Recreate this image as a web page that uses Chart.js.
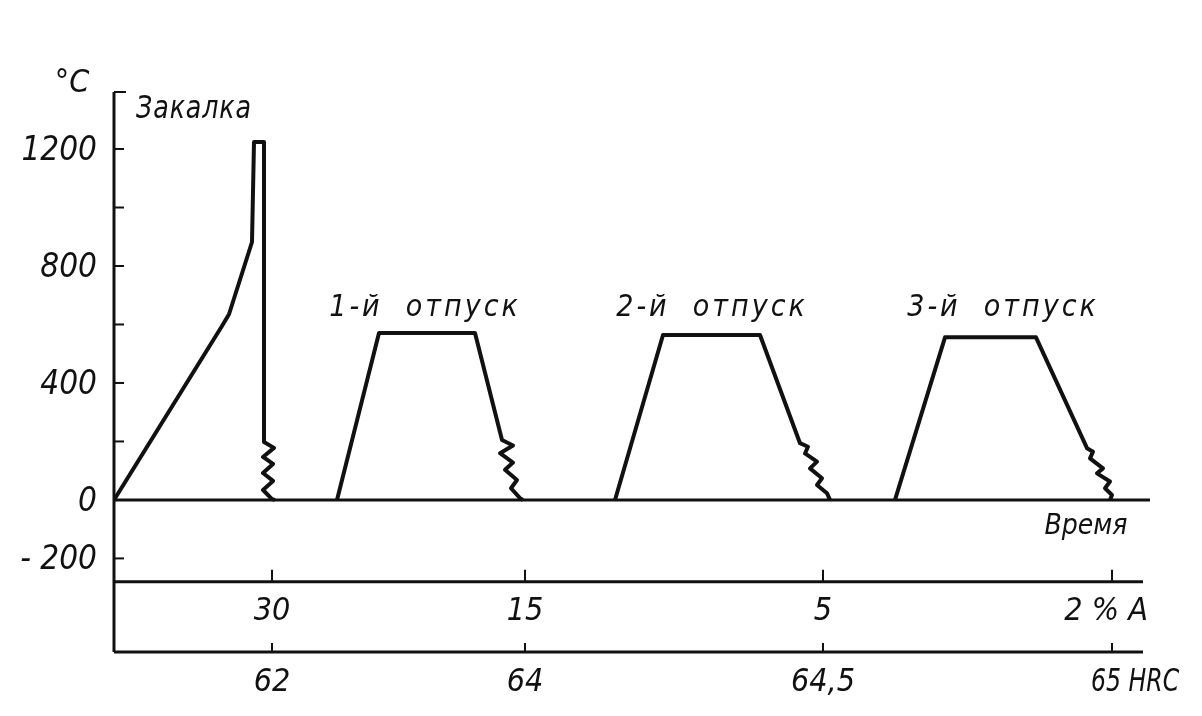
<!DOCTYPE html>
<html>
<head>
<meta charset="utf-8">
<script src="https://cdn.jsdelivr.net/npm/chart.js@4"></script>
<style>
  html, body { margin: 0; padding: 0; background: #fff; }
  #wrap { width: 1202px; height: 716px; position: relative; }
</style>
</head>
<body>
<div id="wrap"><canvas id="chart"></canvas></div>
<script>
// time in arbitrary units, temperature in °C
const quenchTime = [0, 10.8, 11.5, 13.8, 14.0, 15.0, 15.0, 16.0, 14.9, 15.9, 14.9, 15.9, 14.9, 15.8, 16.1];
const quenchTemp = [0, 595, 635, 882, 1224, 1224, 198, 178, 147, 123, 92, 65, 34, 3, 0];

const temper1Time = [22.3, 26.5, 36.1, 38.8, 39.9, 38.6, 39.9, 39.1, 40.3, 39.7, 40.6, 40.9];
const temper1Temp = [0, 571, 571, 205, 186, 160, 128, 103, 68, 40, 6, 0];

const temper2Time = [50.1, 54.9, 64.6, 68.6, 69.4, 69.1, 70.3, 69.6, 70.8, 70.3, 71.3, 71.6];
const temper2Temp = [0, 564, 564, 194, 182, 159, 131, 108, 74, 51, 23, 0];

const temper3Time = [78.1, 83.1, 92.2, 97.3, 97.9, 97.6, 98.9, 98.3, 99.6, 99.1, 99.8, 99.6];
const temper3Temp = [0, 556, 556, 177, 165, 142, 108, 91, 63, 40, 17, 0];

const stageNames = ['Закалка', '1-й  отпуск', '2-й  отпуск', '3-й  отпуск'];

const yTickValues = [-200, 200, 400, 600, 800, 1000, 1200];
const yLabelValues = [1200, 800, 400, 0, -200];

// after each stage: retained austenite (%) and hardness (HRC)
const stageEndTime = [15.8, 41.1, 70.9, 99.8];
const austeniteLabels = ['30', '15', '5', '2 % A'];
const hardnessLabels = ['62', '64', '64,5', '65 HRC'];

const Y_MIN = -520, Y_MAX = 1395, X_MAX = 103.6;
const AUST_LINE = -280;
const FONT = '"Liberation Sans Narrow", "DejaVu Sans Condensed", sans-serif';

function pts(xs, ys) {
  return xs.map((x, i) => ({ x: x, y: ys[i] }));
}

function text(ctx, str, x, y, size, align, spacing, squeeze) {
  ctx.save();
  ctx.font = 'italic ' + size + 'px ' + FONT;
  ctx.fillStyle = '#111';
  ctx.textAlign = align || 'center';
  ctx.textBaseline = 'middle';
  if ('letterSpacing' in ctx) ctx.letterSpacing = (spacing || 0) + 'px';
  ctx.translate(x, y);
  ctx.scale(squeeze || 1, 1);
  ctx.fillText(str, 0, 0);
  ctx.restore();
}

function line(ctx, x1, y1, x2, y2, w) {
  ctx.beginPath();
  ctx.lineWidth = w;
  ctx.moveTo(x1, y1);
  ctx.lineTo(x2, y2);
  ctx.stroke();
}

const drawing = {
  id: 'drawing',
  beforeDatasetsDraw(chart) {
    const ctx = chart.ctx;
    const xs = chart.scales.x, ys = chart.scales.y;
    const left = xs.getPixelForValue(0);
    ctx.save();
    ctx.strokeStyle = '#111';
    ctx.lineCap = 'butt';

    // temperature axis
    line(ctx, left, ys.getPixelForValue(Y_MAX), left, ys.getPixelForValue(Y_MIN), 3);
    line(ctx, left, ys.getPixelForValue(Y_MAX), left + 12, ys.getPixelForValue(Y_MAX), 2);
    yTickValues.forEach(v => {
      const y = ys.getPixelForValue(v);
      line(ctx, left, y, left + 10, y, 2);
    });
    yLabelValues.forEach(v => {
      const s = v < 0 ? '- ' + Math.abs(v) : String(v);
      text(ctx, s, left - 17, ys.getPixelForValue(v) + 2, 33, 'right');
    });
    text(ctx, '°C', left - 42, ys.getPixelForValue(Y_MAX) - 8, 32, 'center');

    // time axis
    line(ctx, left, ys.getPixelForValue(0), xs.getPixelForValue(X_MAX), ys.getPixelForValue(0), 3);
    text(ctx, 'Время', xs.getPixelForValue(97.2), ys.getPixelForValue(-92), 28, 'center', 0);

    // austenite and hardness strips
    const yA = ys.getPixelForValue(AUST_LINE), yH = ys.getPixelForValue(Y_MIN);
    const right = xs.getPixelForValue(102.9);
    line(ctx, left, yA, right, yA, 3);
    line(ctx, left, yH, right, yH, 3);
    stageEndTime.forEach((t, i) => {
      const x = xs.getPixelForValue(t);
      line(ctx, x, yA, x, yA - 12, 2);
      line(ctx, x, yH, x, yH - 9, 2);
      const last = i === stageEndTime.length - 1;
      text(ctx, austeniteLabels[i], x - (last ? 6 : 0), yA + 30, 32, 'center', 0);
      if (last) text(ctx, hardnessLabels[i], x - 21, yH + 31, 32, 'left', 0, 0.82);
      else text(ctx, hardnessLabels[i], x, yH + 31, 32, 'center');
    });

    // stage names
    text(ctx, stageNames[0], xs.getPixelForValue(8.0), ys.getPixelForValue(1333), 32, 'center', 1, 0.88);
    text(ctx, stageNames[1], xs.getPixelForValue(31.1), ys.getPixelForValue(656), 30, 'center', 3);
    text(ctx, stageNames[2], xs.getPixelForValue(59.8), ys.getPixelForValue(656), 30, 'center', 3);
    text(ctx, stageNames[3], xs.getPixelForValue(88.9), ys.getPixelForValue(656), 30, 'center', 3);
    ctx.restore();
  }
};

function series(name, data) {
  return {
    label: name,
    data: data,
    showLine: true,
    borderColor: '#111',
    borderWidth: 4,
    borderJoinStyle: 'round',
    pointRadius: 0,
    tension: 0,
    fill: false
  };
}

new Chart(document.getElementById('chart'), {
  type: 'scatter',
  data: {
    datasets: [
      series(stageNames[0], pts(quenchTime, quenchTemp)),
      series(stageNames[1], pts(temper1Time, temper1Temp)),
      series(stageNames[2], pts(temper2Time, temper2Temp)),
      series(stageNames[3], pts(temper3Time, temper3Temp))
    ]
  },
  options: {
    responsive: true,
    maintainAspectRatio: false,
    animation: false,
    layout: { padding: { left: 114, right: 52, top: 92, bottom: 64 } },
    plugins: { legend: { display: false }, tooltip: { enabled: false } },
    scales: {
      x: { type: 'linear', min: 0, max: X_MAX, display: false },
      y: { type: 'linear', min: Y_MIN, max: Y_MAX, display: false }
    }
  },
  plugins: [drawing]
});
</script>
</body>
</html>
